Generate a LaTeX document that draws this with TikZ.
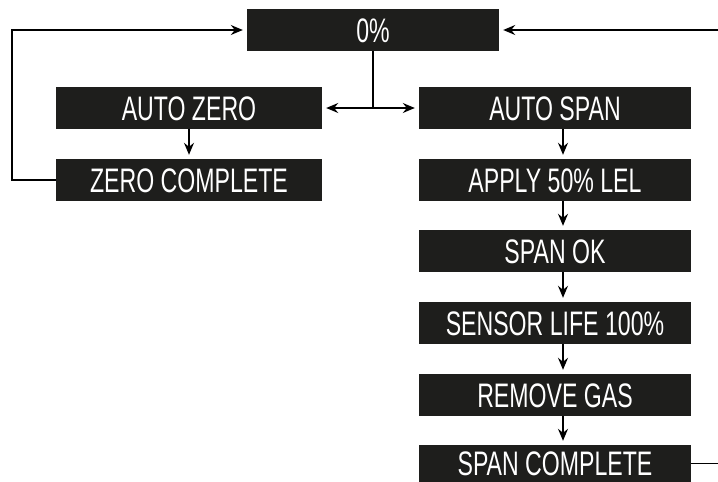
\documentclass[tikz,border=0pt]{standalone}
\usepackage{fontspec}
\setmainfont{Liberation Sans}[FakeStretch=0.68]
\usetikzlibrary{arrows.meta}
\definecolor{lcdbg}{RGB}{30,30,28}
\tikzset{lcd/.style={fill=lcdbg, text=white, inner sep=0pt, minimum height=42pt, text height=24pt, text depth=0pt, font=\fontsize{34}{34}\selectfont},
         flow/.style={line width=1.5pt, -{Stealth[length=12pt,width=10pt,inset=4pt]}, shorten >=4pt}}

\begin{document}
\begin{tikzpicture}[x=1pt,y=-1pt] % units in pixels of the 718x482 page, y runs down
                             \useasboundingbox (0,0) rectangle (718,482);
                             \node[lcd, minimum width=252pt] (zero) at (373,30) {0\%};
                             % left branch
                             \node[lcd, minimum width=266pt] (autozero) at (189,108) {AUTO ZERO};
                             \node[lcd, minimum width=266pt] (zerodone) at (189,180) {ZERO COMPLETE};
                             % right branch
                             \node[lcd, minimum width=272pt] (autospan) at (555,108) {AUTO SPAN};
                             \node[lcd, minimum width=272pt] (apply) at (555,180) {APPLY 50\% LEL};
                             \node[lcd, minimum width=272pt] (spanok) at (555,251) {SPAN OK};
                             \node[lcd, minimum width=272pt] (life) at (555,323) {SENSOR LIFE 100\%};
                             \node[lcd, minimum width=272pt] (remove) at (555,395) {REMOVE GAS};
                             \node[lcd, minimum width=272pt, minimum height=37pt] (spandone) at (555,463.5) {SPAN COMPLETE}; % runs off the page

                             \coordinate (split) at (zero.south |- autozero.east);
                             \draw[line width=1.5pt] (zero) -- (split);
                             \draw[flow] (split) -- (autozero);
                             \draw[flow] (split) -- (autospan);
                             \draw[flow] (autozero) -- (zerodone);
                             \draw[flow] (zerodone.west) -- ++(-44,0) |- (zero.west); % back to the top
                             \foreach \a/\b in {autospan/apply, apply/spanok, spanok/life, life/remove, remove/spandone}
                                  \draw[flow] ([xshift=8pt]\a.south) -- ([xshift=8pt]\b.north);
                             \draw[flow] (spandone.east) -- ++(40,0) |- (zero.east);
                         \end{tikzpicture}
\end{document}
